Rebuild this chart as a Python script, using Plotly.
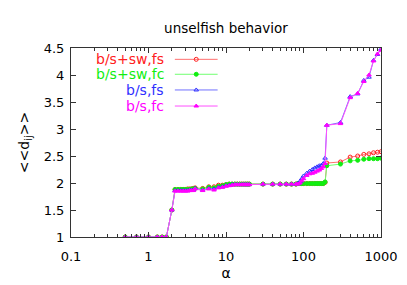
import plotly.graph_objects as go

alpha = [0.5, 0.7, 1, 1.3, 1.5, 1.7, 2,
         2.2, 2.4, 2.6, 2.8, 3, 3.2, 3.4, 3.6, 3.8,
         4, 5, 6, 7, 8, 9, 10, 11, 12, 13, 14, 15, 16, 17, 18, 19, 20,
         30, 40, 50, 60, 70, 80, 85, 90, 95, 100, 110, 120, 130, 140, 150, 160, 170, 180, 190,
         200, 300, 400, 500, 600, 700, 800, 900, 1000]

low = [1, 1, 1, 1, 1, 1, 1.5]
mid = [1.98, 1.98, 1.98, 1.98, 1.98, 1.98]

sw_fs = low + [1.88, 1.88, 1.88, 1.88, 1.88, 1.89, 1.89, 1.89, 1.9] + \
    [1.91, 1.9, 1.93, 1.93, 1.96, 1.96, 1.97, 1.98, 1.98, 1.98, 1.98, 1.98, 1.98, 1.98, 1.98, 1.98, 1.98] + \
    mid + [1.99, 1.99, 1.99, 1.99, 1.99, 1.99, 1.99, 1.99, 1.99, 1.99, 1.99, 1.99, 2.01] + \
    [2.37, 2.39, 2.48, 2.5, 2.53, 2.54, 2.56, 2.57, 2.58]

sw_fc = low + [1.88, 1.88, 1.88, 1.88, 1.88, 1.88, 1.88, 1.89, 1.89] + \
    [1.9, 1.89, 1.92, 1.91, 1.94, 1.95, 1.97, 1.98, 1.98, 1.98, 1.98, 1.98, 1.98, 1.98, 1.98, 1.98, 1.98] + \
    mid + [1.99, 1.99, 1.99, 1.99, 1.99, 1.99, 1.99, 1.99, 1.99, 1.99, 1.99, 1.99, 2.02] + \
    [2.32, 2.35, 2.41, 2.42, 2.44, 2.45, 2.45, 2.45, 2.46]

bs_fs = low + [1.86, 1.86, 1.86, 1.86, 1.86, 1.86, 1.87, 1.87, 1.87] + \
    [1.9, 1.87, 1.9, 1.89, 1.92, 1.93, 1.95, 1.96, 1.97, 1.97, 1.97, 1.97, 1.97, 1.97, 1.97, 1.97, 1.97] + \
    mid + [1.99, 2.03, 2.08, 2.13, 2.18, 2.22, 2.25, 2.28, 2.3, 2.32, 2.33, 2.36, 2.46] + \
    [3.07, 3.12, 3.6, 3.65, 3.9, 3.96, 4.27, 4.38, 4.48]

bs_fc = low + [1.85, 1.85, 1.85, 1.85, 1.85, 1.85, 1.86, 1.86, 1.86] + \
    [1.89, 1.86, 1.89, 1.87, 1.91, 1.92, 1.94, 1.95, 1.96, 1.97, 1.97, 1.97, 1.97, 1.97, 1.97, 1.97, 1.97] + \
    mid + [1.98, 2.0, 2.04, 2.08, 2.14, 2.17, 2.18, 2.2, 2.22, 2.24, 2.27, 2.3, 2.36] + \
    [3.07, 3.1, 3.58, 3.66, 3.88, 4.0, 4.26, 4.39, 4.46]

x_ticks = [0.1, 1, 10, 100, 1000]
x_tick_text = ["0.1", "1", "10", "100", "1000"]
y_ticks = [1, 1.5, 2, 2.5, 3, 3.5, 4, 4.5]
y_tick_text = ["1", "1.5", "2", "2.5", "3", "3.5", "4", "4.5"]

labels = ["b/s+sw,fs", "b/s+sw,fc", "b/s,fs", "b/s,fc"]
series = [sw_fs, sw_fc, bs_fs, bs_fc]
line_colors = ["#ff7070", "#70ff70", "#7070ff", "#ff50ff"]
marker_colors = ["#ff2020", "#10ee10", "#3030ff", "#ff00ff"]
symbols = ["circle-open", "circle", "triangle-up-open", "triangle-up"]

FONT = "DejaVu Sans"
fig = go.Figure()

for lab, ys, lc, mc, sym in zip(labels, series, line_colors, marker_colors, symbols):
    fig.add_trace(go.Scatter(
        x=alpha, y=ys, mode="lines+markers", name=lab, showlegend=False,
        line=dict(color=lc, width=1),
        marker=dict(symbol=sym, size=4, color=mc, line=dict(color=mc, width=1)),
    ))

# custom gnuplot-style key (text right-aligned, then sample)
key_y = [0.94, 0.861, 0.778, 0.693]
for lab, ky, lc, mc, sym in zip(labels, key_y, line_colors, marker_colors, symbols):
    fig.add_trace(go.Scatter(
        x=[0.335, 0.473], y=[ky, ky], xaxis="x2", yaxis="y2", mode="lines",
        line=dict(color=lc, width=1), showlegend=False, hoverinfo="skip"))
    fig.add_trace(go.Scatter(
        x=[0.404], y=[ky], xaxis="x2", yaxis="y2", mode="markers",
        marker=dict(symbol=sym, size=4, color=mc, line=dict(color=mc, width=1)),
        showlegend=False, hoverinfo="skip"))
    fig.add_annotation(x=0.306, y=ky, xref="paper", yref="paper", text=lab,
                       showarrow=False, xanchor="right", yanchor="middle",
                       font=dict(family=FONT, size=14, color=mc))

# page body adds an 8px offset; margins compensate so the plot lands in place
fig.update_layout(
    width=407, height=285,
    margin=dict(l=63, r=34, t=40, b=56),
    plot_bgcolor="white", paper_bgcolor="white",
    font=dict(family=FONT, size=13, color="black"),
    title=dict(text="unselfish behavior", x=218 / 407, xanchor="center",
               y=1 - 20 / 285, yanchor="middle", font=dict(family=FONT, size=13.5)),
    xaxis=dict(type="log", range=[-1, 3], tickvals=x_ticks, ticktext=x_tick_text,
               ticks="inside", ticklen=5, tickcolor="#333", mirror="ticks",
               showline=True, linecolor="#333", linewidth=1, showgrid=False, zeroline=False,
               automargin=False, ticklabelstandoff=7,
               minor=dict(ticks="inside", ticklen=3, tickcolor="#333", dtick="D1", showgrid=False),
               title=dict(text="α", standoff=5, font=dict(family=FONT, size=14))),
    yaxis=dict(range=[1, 4.5], tickvals=y_ticks, ticktext=y_tick_text,
               ticks="inside", ticklen=5, tickcolor="#333", mirror="ticks",
               showline=True, linecolor="#333", linewidth=1, showgrid=False, zeroline=False,
               automargin=False, ticklabelstandoff=3,
               title=dict(text="&lt;&lt;d<sub>ij</sub>&gt;&gt;", standoff=10, font=dict(family=FONT, size=14))),
    xaxis2=dict(overlaying="x", range=[0, 1], visible=False, fixedrange=True),
    yaxis2=dict(overlaying="y", range=[0, 1], visible=False, fixedrange=True),
)

fig.write_html("out.html")
